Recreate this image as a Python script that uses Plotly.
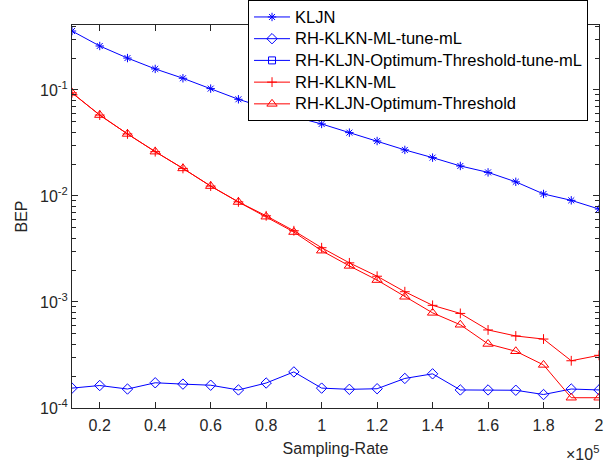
import plotly.graph_objects as go

# Sampling rate (x 1e5)
sampling_rate = [0.1, 0.2, 0.3, 0.4, 0.5, 0.6, 0.7, 0.8, 0.9, 1.0,
                 1.1, 1.2, 1.3, 1.4, 1.5, 1.6, 1.7, 1.8, 1.9, 2.0]

kljn = [0.36, 0.26, 0.200, 0.158, 0.129, 0.103, 0.0817, 0.0676, 0.056, 0.0478,
        0.0396, 0.033, 0.0272, 0.023, 0.0192, 0.0167, 0.0136, 0.01045, 0.0091, 0.00753]

ml_tune = [0.000154, 0.000163, 0.000151, 0.000173, 0.000168, 0.000164, 0.000148, 0.000172, 0.000219, 0.000154,
           0.000150, 0.000152, 0.000190, 0.000210, 0.000148, 0.000148, 0.000147, 0.000134, 0.000151, 0.000148]

# Zero BEP: below the log axis, so not visible (only in legend)
opt_tune = [0] * 20

ml = [0.094, 0.058, 0.0385, 0.0262, 0.0182, 0.0124, 0.0088, 0.0065, 0.0047, 0.00325,
      0.00234, 0.00175, 0.00125, 0.00093, 0.00078, 0.000545, 0.000478, 0.000447, 0.000279, 0.000314]

opt = [0.094, 0.058, 0.0385, 0.0262, 0.0182, 0.0124, 0.00877, 0.00638, 0.00457, 0.00305,
       0.00219, 0.00161, 0.00112, 0.00079, 0.00061, 0.000402, 0.000343, 0.000255, 0.000125, 0.000125]

series_names = ["KLJN", "RH-KLKN-ML-tune-mL", "RH-KLJN-Optimum-Threshold-tune-mL",
                "RH-KLKN-ML", "RH-KLJN-Optimum-Threshold"]

x_tickvals = [0.2, 0.4, 0.6, 0.8, 1.0, 1.2, 1.4, 1.6, 1.8, 2.0]
x_ticktext = ["0.2", "0.4", "0.6", "0.8", "1", "1.2", "1.4", "1.6", "1.8", "2"]
y_tickvals = [1e-4, 1e-3, 1e-2, 1e-1]
y_ticktext = ["10<sup>-4</sup>", "10<sup>-3</sup>", "10<sup>-2</sup>", "10<sup>-1</sup>"]
y_minor = [m * 10.0 ** e for e in (-4, -3, -2, -1) for m in range(2, 10) if m * 10.0 ** e <= 0.41]

BLUE = "rgb(0,0,255)"
RED = "rgb(255,0,0)"
AX = "#262626"
FONT = "Liberation Sans, Arial, Helvetica, sans-serif"


def lname(s):
    return '<span style="font-size:16.5px">' + s + '</span>'


styles = [
    (kljn, BLUE, "asterisk-open", 7),
    (ml_tune, BLUE, "diamond-open", 8),
    (opt_tune, BLUE, "square-open", 7),
    (ml, RED, "cross-thin-open", 7),
    (opt, RED, "triangle-up-open", 9),
]

fig = go.Figure()
for name, (vals, col, sym, sz) in zip(series_names, styles):
    fig.add_trace(go.Scatter(x=sampling_rate, y=vals, name=lname(name), mode="lines+markers",
                             line=dict(color=col, width=1),
                             marker=dict(symbol=sym, size=sz, color=col, line=dict(color=col, width=1))))

fig.update_layout(
    width=613, height=466,
    margin=dict(l=72, r=14, t=25, b=58, autoexpand=False),
    paper_bgcolor="white", plot_bgcolor="white",
    font=dict(family=FONT, size=16, color=AX),
    showlegend=True,
    legend=dict(x=0.334, y=1.065, xanchor="left", yanchor="top",
                bgcolor="white", bordercolor="black", borderwidth=1,
                font=dict(family=FONT, size=14.4, color="black"),
                itemwidth=36, tracegroupgap=0),
    xaxis=dict(range=[0.1, 2.0], tickmode="array", tickvals=x_tickvals, ticktext=x_ticktext,
               showline=True, linecolor=AX, linewidth=1, mirror="ticks",
               ticks="inside", ticklen=6, tickcolor=AX, showgrid=False, zeroline=False,
               tickfont=dict(size=16, color=AX), ticklabelstandoff=3,
               title=dict(text="Sampling-Rate", font=dict(size=16, color=AX), standoff=9)),
    yaxis=dict(type="log", range=[-4, -0.387], tickmode="array", tickvals=y_tickvals, ticktext=y_ticktext,
               showline=True, linecolor=AX, linewidth=1, mirror="ticks",
               ticks="inside", ticklen=6, tickcolor=AX, showgrid=False, zeroline=False,
               tickfont=dict(size=16, color=AX),
               minor=dict(tickmode="array", tickvals=y_minor, ticks="inside", ticklen=4, tickcolor=AX, showgrid=False),
               title=dict(text="BEP", font=dict(size=16, color=AX), standoff=8)),
    annotations=[dict(text="\u00d710<sup>5</sup>", xref="paper", yref="paper", x=1.003, y=-0.118,
                      xanchor="right", yanchor="middle", showarrow=False,
                      font=dict(family=FONT, size=16, color=AX))],
)

fig.write_html("out.html", config={"displayModeBar": False},
               post_script="document.body.style.margin='0';document.body.style.padding='0';document.documentElement.style.overflow='hidden';")
